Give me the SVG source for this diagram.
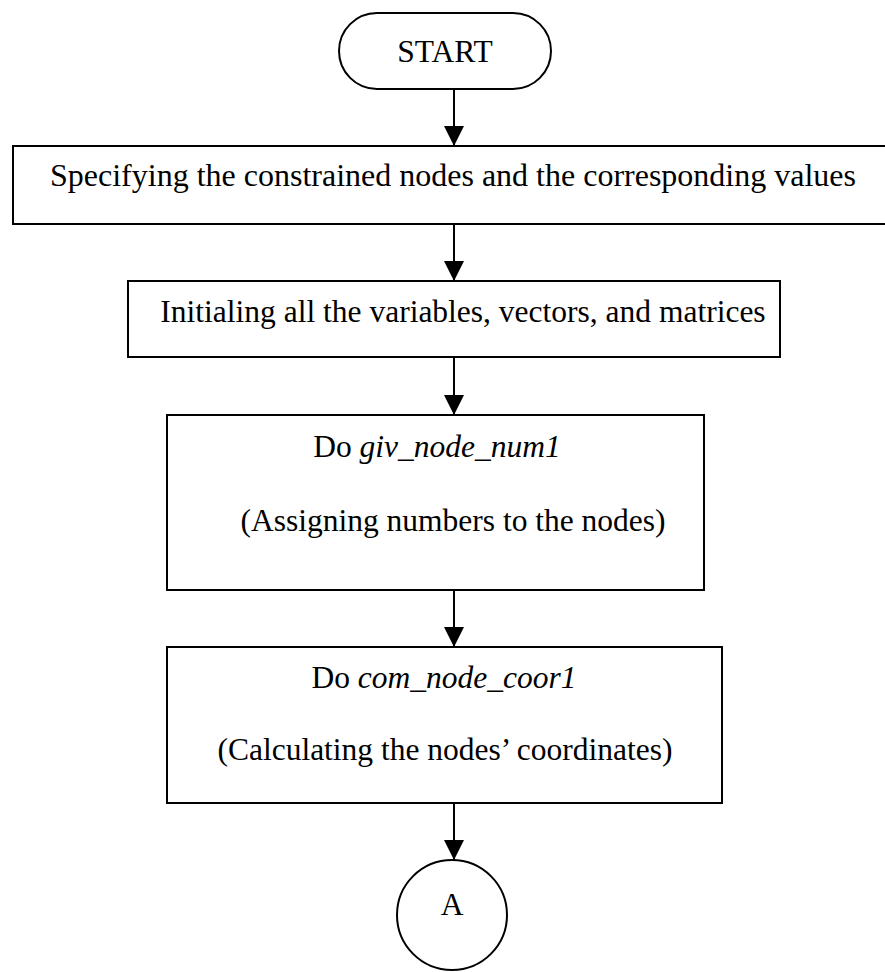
<svg xmlns="http://www.w3.org/2000/svg" width="885" height="972" viewBox="0 0 885 972">
<style>
.box{fill:#fff;stroke:#000;stroke-width:2}
.t{font-family:"Liberation Serif","Times New Roman",serif;font-size:31.5px;fill:#000;text-anchor:middle}
.i{font-style:italic}
.c{stroke:#000;stroke-width:2;fill:none}
</style>
<defs>
<marker id="ah" viewBox="0 0 20 20" refX="20" refY="10" markerWidth="20" markerHeight="20" markerUnits="userSpaceOnUse" orient="auto">
<path d="M0,0 L20,10 L0,20 z" fill="#000"/>
</marker>
</defs>
<rect width="885" height="972" fill="#fff"/>
<g id="connectors">
<line class="c" x1="454" y1="89" x2="454" y2="146" marker-end="url(#ah)"/>
<line class="c" x1="454" y1="224" x2="454" y2="281" marker-end="url(#ah)"/>
<line class="c" x1="454" y1="357" x2="454" y2="415" marker-end="url(#ah)"/>
<line class="c" x1="454" y1="590" x2="454" y2="647" marker-end="url(#ah)" stroke-width="1.5"/>
<line class="c" x1="454" y1="803" x2="454" y2="860" marker-end="url(#ah)"/>
</g>
<g id="start">
<rect class="box" x="339" y="13" width="212" height="76" rx="38" ry="38"/>
<text class="t" x="445" y="62">START</text>
</g>
<g id="specify">
<rect class="box" x="13" y="146" width="880" height="78"/>
<text class="t" x="453" y="186" style="font-size:32px">Specifying the constrained nodes and the corresponding values</text>
</g>
<g id="init">
<rect class="box" x="128" y="281" width="652" height="76"/>
<text class="t" x="463" y="322">Initialing all the variables, vectors, and matrices</text>
</g>
<g id="givnode">
<rect class="box" x="167" y="415" width="537" height="175"/>
<text class="t" x="437" y="457">Do <tspan class="i">giv_node_num1</tspan></text>
<text class="t" x="453" y="531">(Assigning numbers to the nodes)</text>
</g>
<g id="comnode">
<rect class="box" x="167" y="647" width="555" height="156"/>
<text class="t" x="444" y="688">Do <tspan class="i">com_node_coor1</tspan></text>
<text class="t" x="445" y="760">(Calculating the nodes’ coordinates)</text>
</g>
<g id="connA">
<circle class="box" cx="452" cy="915" r="55"/>
<text class="t" x="452" y="915">A</text>
</g>
</svg>
